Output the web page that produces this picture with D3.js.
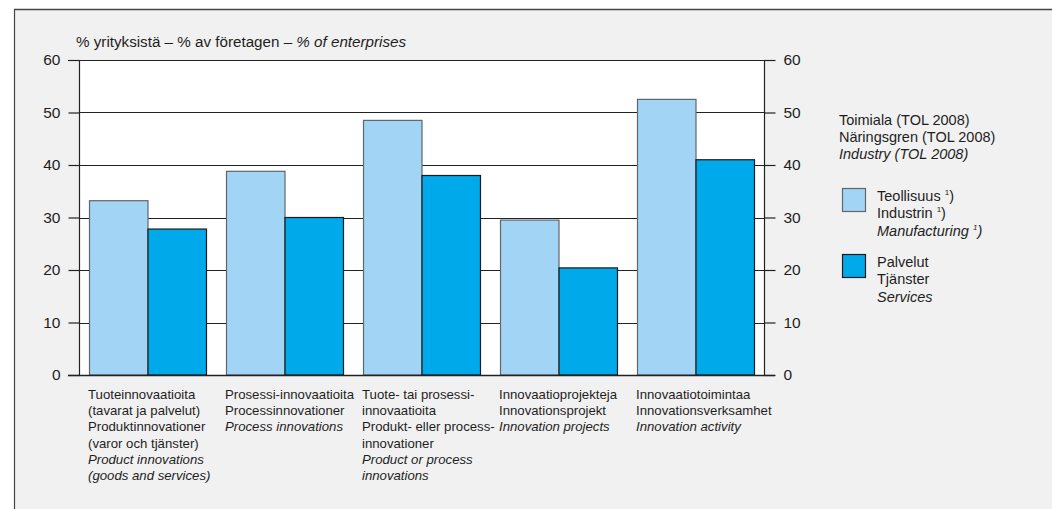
<!DOCTYPE html>
<html>
<head>
<meta charset="utf-8">
<script src="https://cdn.jsdelivr.net/npm/d3@7/dist/d3.min.js"></script>
<style>
  html, body { margin: 0; padding: 0; background: #ffffff; }
  svg { display: block; }
  text { font-family: "Liberation Sans", Arial, Helvetica, sans-serif; fill: #1e1e1e; }
</style>
</head>
<body>
<svg id="chart" width="1052" height="509"></svg>
<script>
// ---- data ----
const categories = ["product", "process", "prodOrProc", "projects", "activity"];
const categoryLabels = [
  [["Tuoteinnovaatioita", false], ["(tavarat ja palvelut)", false], ["Produktinnovationer", false], ["(varor och tjänster)", false], ["Product innovations", true], ["(goods and services)", true]],
  [["Prosessi-innovaatioita", false], ["Processinnovationer", false], ["Process innovations", true]],
  [["Tuote- tai prosessi-", false], ["innovaatioita", false], ["Produkt- eller process-", false], ["innovationer", false], ["Product or process", true], ["innovations", true]],
  [["Innovaatioprojekteja", false], ["Innovationsprojekt", false], ["Innovation projects", true]],
  [["Innovaatiotoimintaa", false], ["Innovationsverksamhet", false], ["Innovation activity", true]]
];
const seriesKeys = ["manufacturing", "services"];
const manufacturing = [33.2, 38.8, 48.5, 29.5, 52.5];
const services = [27.8, 30.0, 38.0, 20.4, 41.0];
const yTicks = [0, 10, 20, 30, 40, 50, 60];
const yTitle = ["% yrityksistä – % av företagen – ", "% of enterprises"];
const legendTitle = [["Toimiala (TOL 2008)", false], ["Näringsgren (TOL 2008)", false], ["Industry (TOL 2008)", true]];
const legendItems = [
  [["Teollisuus ", false, true], ["Industrin ", false, true], ["Manufacturing ", true, true]],
  [["Palvelut", false, false], ["Tjänster", false, false], ["Services", true, false]]
];
const colors = ["#a2d5f5", "#00a9e9"];
const strokes = ["#5f666c", "#1a1a1a"];

// ---- drawing ----
const svg = d3.select("#chart");
const plot = { left: 79, right: 764, top: 60, bottom: 375 };

// background frame
svg.append("rect").attr("x", 14).attr("y", 9).attr("width", 1052 - 14).attr("height", 509 - 9).attr("fill", "#f1f1f1");
svg.append("line").attr("x1", 14).attr("x2", 1052).attr("y1", 9.5).attr("y2", 9.5).attr("stroke", "#444").attr("stroke-width", 1.5);
svg.append("line").attr("x1", 14.5).attr("x2", 14.5).attr("y1", 9).attr("y2", 509).attr("stroke", "#444").attr("stroke-width", 1.2);

// plot area
svg.append("rect").attr("x", plot.left).attr("y", plot.top).attr("width", plot.right - plot.left).attr("height", plot.bottom - plot.top).attr("fill", "#ffffff");

const y = d3.scaleLinear().domain([0, 60]).range([plot.bottom, plot.top]);
const x = d3.scaleBand().domain(categories).range([plot.left, plot.right]).paddingInner(0.146).paddingOuter(0.073);
const xs = d3.scaleBand().domain(seriesKeys).range([0, x.bandwidth()]);

// gridlines
svg.append("g").selectAll("line").data(yTicks.filter(d => d > 0)).join("line")
  .attr("x1", plot.left).attr("x2", plot.right)
  .attr("y1", d => Math.round(y(d)) + 0.5).attr("y2", d => Math.round(y(d)) + 0.5)
  .attr("stroke", "#222").attr("stroke-width", 1);

// bars
const data = categories.map((c, i) => ({ c, vals: [manufacturing[i], services[i]] }));
const g = svg.append("g");
data.forEach(d => {
  d.vals.forEach((v, j) => {
    g.append("rect")
      .attr("x", x(d.c) + xs(seriesKeys[j]) + 0.5)
      .attr("y", y(v))
      .attr("width", xs.bandwidth())
      .attr("height", y(0) - y(v))
      .attr("fill", colors[j])
      .attr("stroke", strokes[j])
      .attr("stroke-width", 1.2);
  });
});

// axes
const leftAxis = d3.axisLeft(y).tickValues(yTicks).tickSize(11).tickPadding(8);
const rightAxis = d3.axisRight(y).tickValues(yTicks).tickSize(11).tickPadding(8);
const la = svg.append("g").attr("transform", `translate(${plot.left + 0.5},0)`).call(leftAxis);
const ra = svg.append("g").attr("transform", `translate(${plot.right + 0.5},0)`).call(rightAxis);
[la, ra].forEach(a => {
  a.select(".domain").attr("stroke", "#222").attr("stroke-width", 1.2).attr("d", `M0,${plot.top}V${plot.bottom}`);
  a.selectAll(".tick line").attr("stroke", "#222").attr("stroke-width", 1.2);
  a.selectAll(".tick text").attr("font-size", 15.5).attr("fill", "#1e1e1e")
    .style("font-family", '"Liberation Sans", Arial, sans-serif');
});
// baseline at 0 and top line at 60
svg.append("line").attr("x1", plot.left - 11).attr("x2", plot.right + 11)
  .attr("y1", y(0) + 0.5).attr("y2", y(0) + 0.5).attr("stroke", "#222").attr("stroke-width", 1.4);
svg.append("line").attr("x1", plot.left - 11).attr("x2", plot.right + 11)
  .attr("y1", y(60) + 0.5).attr("y2", y(60) + 0.5).attr("stroke", "#222").attr("stroke-width", 1.2);

// y title
const yt = svg.append("text").attr("x", 76).attr("y", 47).attr("font-size", 15.2);
yt.append("tspan").text(yTitle[0]);
yt.append("tspan").attr("font-style", "italic").text(yTitle[1]);

// category labels
categories.forEach((c, i) => {
  const t = svg.append("text").attr("x", x(c) - 1).attr("y", 399).attr("font-size", 13.2);
  categoryLabels[i].forEach((ln, k) => {
    t.append("tspan").attr("x", x(c) - 1).attr("y", 399 + k * 16.2)
      .attr("font-style", ln[1] ? "italic" : "normal").text(ln[0]);
  });
});

// legend
const lt = svg.append("text").attr("font-size", 14.5);
legendTitle.forEach((ln, k) => {
  lt.append("tspan").attr("x", 839).attr("y", 125 + k * 17.2)
    .attr("font-style", ln[1] ? "italic" : "normal").text(ln[0]);
});
const legendTop = [188, 254];
legendItems.forEach((item, i) => {
  svg.append("rect").attr("x", 842.5).attr("y", legendTop[i] + 0.5).attr("width", 23).attr("height", 23)
    .attr("fill", colors[i]).attr("stroke", strokes[i]).attr("stroke-width", 1.2);
  item.forEach((ln, k) => {
    const t = svg.append("text").attr("x", 877).attr("y", legendTop[i] + 12.5 + k * 17.5)
      .attr("font-size", 14.5).attr("font-style", ln[1] ? "italic" : "normal");
    t.append("tspan").text(ln[0]);
    if (ln[2]) {
      t.append("tspan").attr("font-size", 8).attr("dy", -6).text("1");
      t.append("tspan").attr("dy", 6).text(")");
    }
  });
});
</script>
</body>
</html>
